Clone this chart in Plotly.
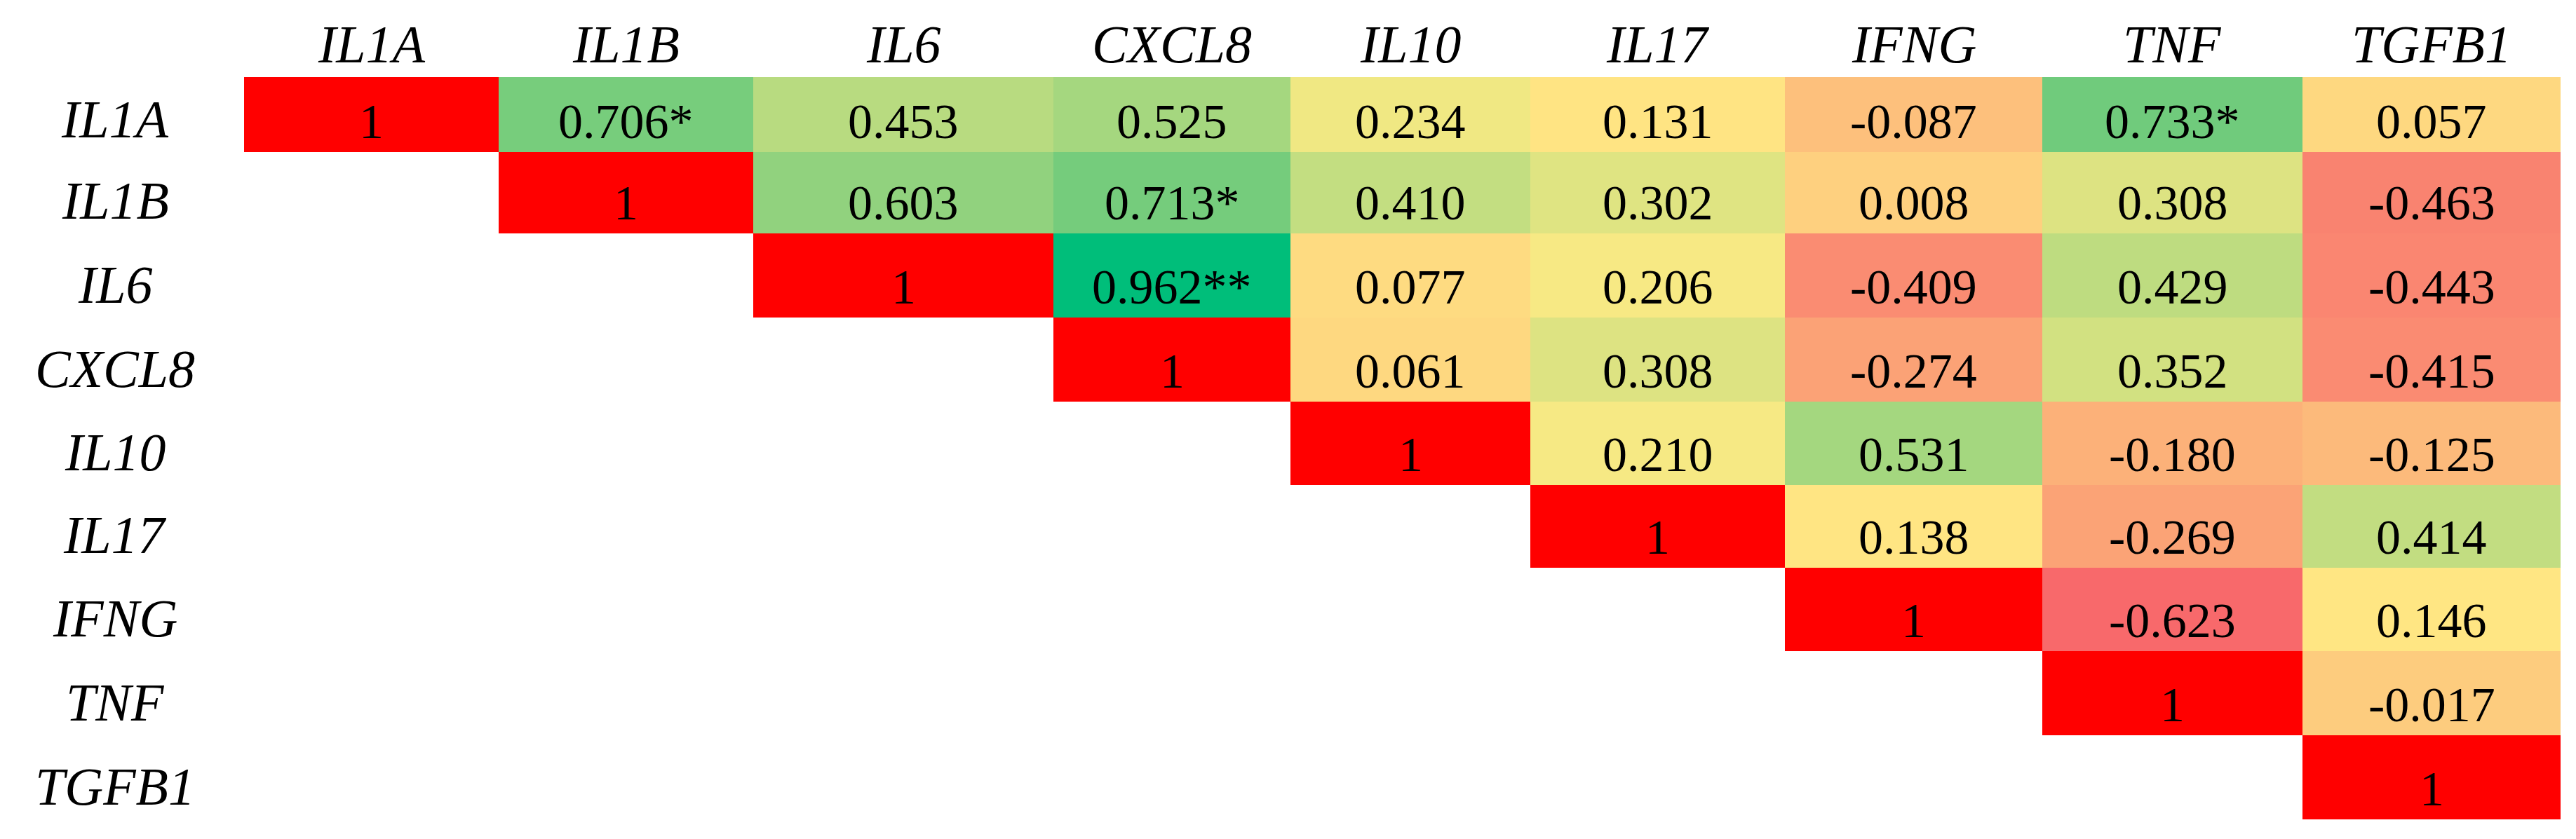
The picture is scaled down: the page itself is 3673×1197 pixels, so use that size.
import numpy as np
import plotly.graph_objects as go

# gene order (rows and columns)
genes = ["IL1A", "IL1B", "IL6", "CXCL8", "IL10", "IL17", "IFNG", "TNF", "TGFB1"]

# upper triangle of the correlation table, each row starts at the diagonal
r_upper = [
    [1, 0.706, 0.453, 0.525, 0.234, 0.131, -0.087, 0.733, 0.057],
    [1, 0.603, 0.713, 0.410, 0.302, 0.008, 0.308, -0.463],
    [1, 0.962, 0.077, 0.206, -0.409, 0.429, -0.443],
    [1, 0.061, 0.308, -0.274, 0.352, -0.415],
    [1, 0.210, 0.531, -0.180, -0.125],
    [1, 0.138, -0.269, 0.414],
    [1, -0.623, 0.146],
    [1, -0.017],
    [1],
]

# significance marks (row gene, column gene, stars)
sig = [("IL1A", "IL1B", "*"), ("IL1A", "TNF", "*"),
       ("IL1B", "CXCL8", "*"), ("IL6", "CXCL8", "**")]

# cell sizes in px (the table columns are not all equal)
col_w = [363, 363, 428, 338, 342, 363, 367, 371, 368]
row_h = [107, 116, 120, 120, 119, 118, 119, 120, 120]

n = len(genes)
x_edges = np.concatenate([[0], np.cumsum(col_w)])
y_edges = np.concatenate([[0], np.cumsum(row_h)])
x_mid = (x_edges[:-1] + x_edges[1:]) / 2

z_off = [[None] * n for _ in range(n)]
z_diag = [[None] * n for _ in range(n)]
for i, row in enumerate(r_upper):
    for k, v in enumerate(row):
        j = i + k
        if i == j:
            z_diag[i][j] = v
        else:
            z_off[i][j] = v

offvals = [v for row in r_upper for v in row[1:]]
lo, hi = min(offvals), max(offvals)
mid = float(np.median(offvals))
pos = lambda v: (v - lo) / (hi - lo)

# red - yellow - green scale like the spreadsheet conditional format
cscale = [
    [0.0, "#F8696B"],
    [pos(mid), "#FFEB84"],
    [pos(0.733), "#70CB7C"],
    [1.0, "#00BE7A"],
]

fig = go.Figure()
fig.add_trace(go.Heatmap(x=x_edges, y=y_edges, z=z_off, zmin=lo, zmax=hi,
                         colorscale=cscale, showscale=False, hoverinfo="skip"))
fig.add_trace(go.Heatmap(x=x_edges, y=y_edges, z=z_diag,
                         colorscale=[[0, "#FF0000"], [1, "#FF0000"]],
                         showscale=False, hoverinfo="skip"))

stars = {(genes.index(a), genes.index(b)): s for a, b, s in sig}
num_font = dict(family="Liberation Serif", size=70, color="black")
lab_font = dict(family="Liberation Serif", size=76, color="black", style="italic")

anns = []
for i, row in enumerate(r_upper):
    for k, v in enumerate(row):
        j = i + k
        txt = "1" if i == j else f"{v:.3f}" + stars.get((i, j), "")
        anns.append(dict(x=x_mid[j], y=y_edges[i + 1], text=txt, showarrow=False,
                         xref="x", yref="y", xanchor="center", yanchor="bottom",
                         yshift=3, font=num_font))

for j, g in enumerate(genes):
    # column headers
    anns.append(dict(x=x_mid[j], y=1, text=g, showarrow=False, xref="x", yref="paper",
                     xanchor="center", yanchor="bottom", yshift=3, font=lab_font))
    # row labels
    anns.append(dict(x=0, y=y_edges[j + 1], text=g, showarrow=False, xref="paper", yref="y",
                     xanchor="center", yanchor="bottom", xshift=-184, yshift=3,
                     font=lab_font))

fig.update_layout(
    width=3673, height=1197,
    margin=dict(l=340, r=30, t=102, b=36),
    plot_bgcolor="white", paper_bgcolor="white",
    annotations=anns,
    xaxis=dict(visible=False, range=[0, x_edges[-1]]),
    yaxis=dict(visible=False, range=[y_edges[-1], 0]),
)

fig.write_html("out.html")
